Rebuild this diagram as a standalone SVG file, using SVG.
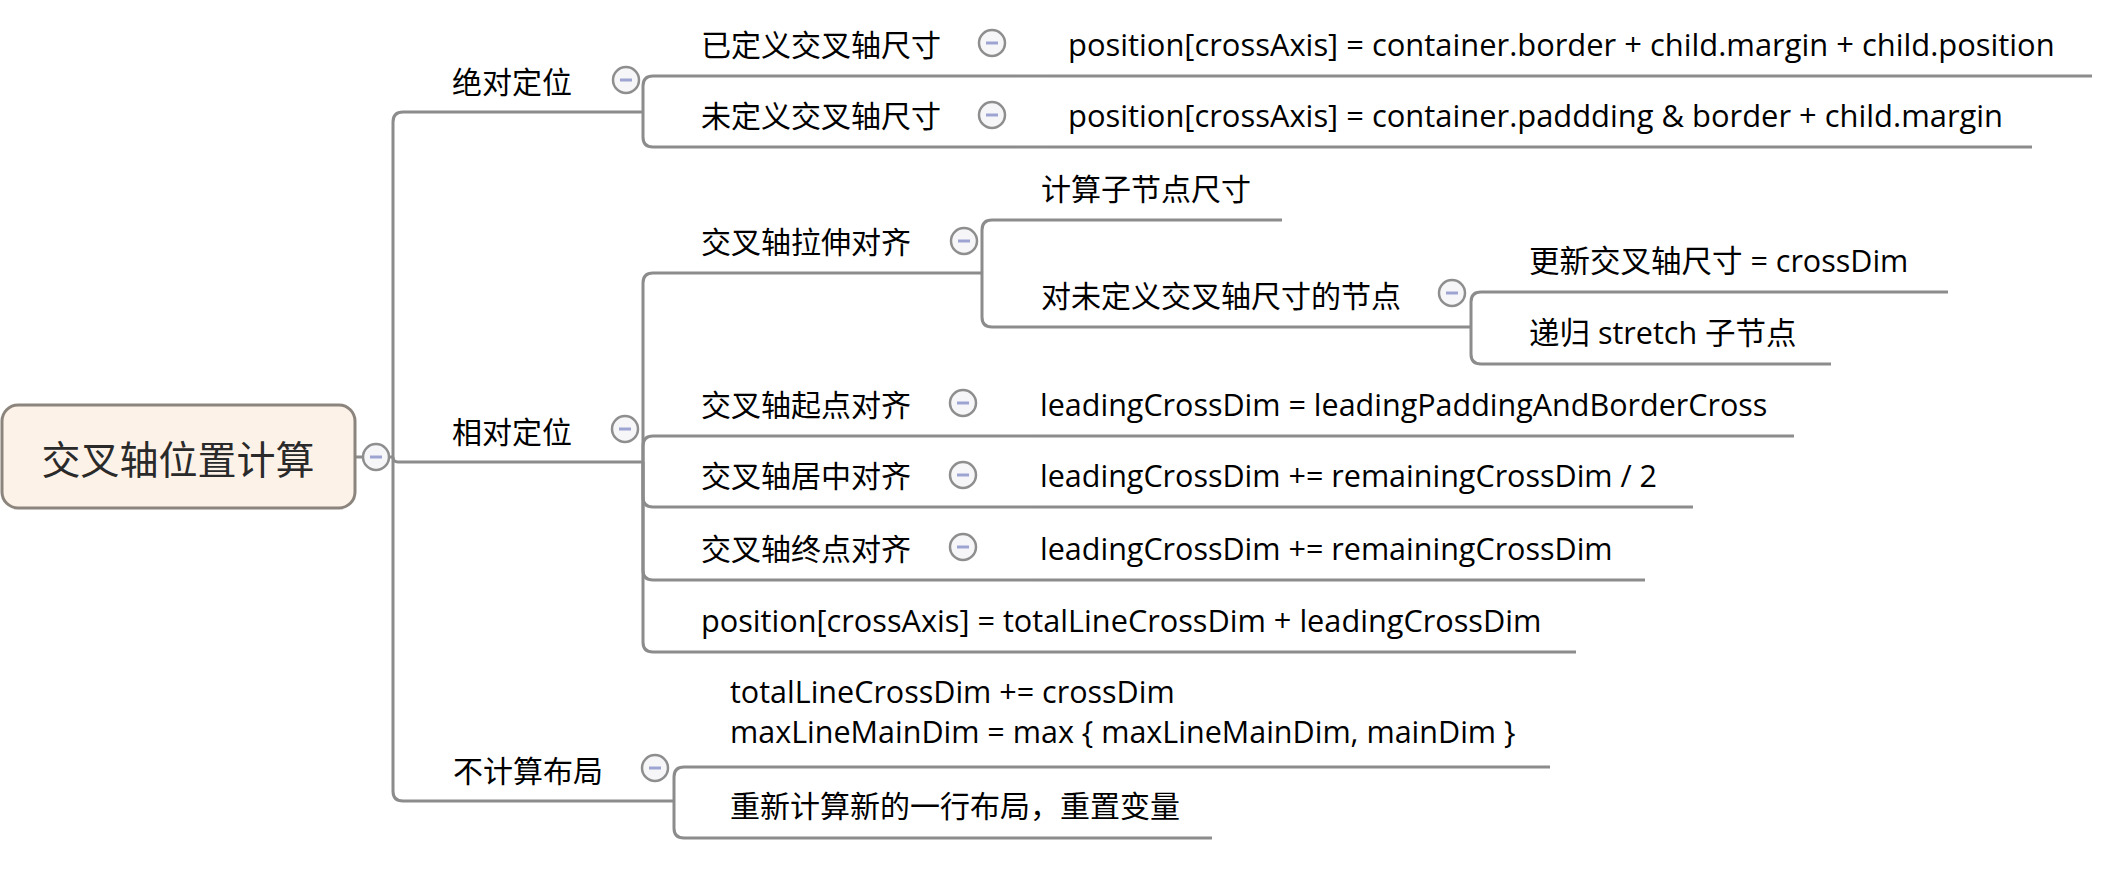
<svg xmlns="http://www.w3.org/2000/svg" width="2126" height="874" viewBox="0 0 2126 874">
<style>
.ln{fill:none;stroke:#8c8c8c;stroke-width:3;stroke-linecap:butt}
.t{font-family:"Open Sans","Noto Sans CJK SC",sans-serif;font-size:30.5px;fill:#000}
.c{font-size:30px}
.w{font-size:30.9px}
.rt{font-family:"Noto Sans CJK SC",sans-serif;font-size:39px;fill:#2a2a2a;text-anchor:middle}
.root{fill:#fdf2e8;stroke:#8c857e;stroke-width:3}
</style>
<defs>
<g id="col">
<circle cx="0" cy="0" r="13" fill="#f6f6f9" stroke="#8e8e8e" stroke-width="2.5"/>
<line x1="-6" y1="0" x2="6" y2="0" stroke="#9ea4d2" stroke-width="3"/>
</g>
</defs>
<rect width="2126" height="874" fill="#ffffff"/>
<g id="connectors">
<path class="ln" d="M355,457 L393,457"/>
<path class="ln" d="M393,457 L393,122 Q393,112 403,112"/>
<path class="ln" d="M393,457 Q393,462 398,462"/>
<path class="ln" d="M393,457 L393,791 Q393,801 403,801"/>
<path class="ln" d="M643,112 L643,86 Q643,76 653,76"/>
<path class="ln" d="M643,112 L643,137 Q643,147 653,147"/>
<path class="ln" d="M643,462 L643,283 Q643,273 653,273"/>
<path class="ln" d="M643,462 L643,446 Q643,436 653,436"/>
<path class="ln" d="M643,462 L643,497 Q643,507 653,507"/>
<path class="ln" d="M643,462 L643,570 Q643,580 653,580"/>
<path class="ln" d="M643,462 L643,642 Q643,652 653,652"/>
<path class="ln" d="M982,273 L982,230 Q982,220 992,220"/>
<path class="ln" d="M982,273 L982,317 Q982,327 992,327"/>
<path class="ln" d="M1471,327 L1471,302 Q1471,292 1481,292"/>
<path class="ln" d="M1471,327 L1471,354 Q1471,364 1481,364"/>
<path class="ln" d="M674,801 L674,777 Q674,767 684,767"/>
<path class="ln" d="M674,801 L674,828 Q674,838 684,838"/>
<path class="ln" d="M1020,76 L1050,76"/>
<path class="ln" d="M1020,147 L1050,147"/>
<path class="ln" d="M1000,436 L1030,436"/>
<path class="ln" d="M1000,507 L1030,507"/>
<path class="ln" d="M1000,580 L1030,580"/>
</g>
<g id="root">
<rect class="root" x="2" y="405" width="353" height="103" rx="16"/>
<text class="rt" x="178" y="474">交叉轴位置计算</text>
<use href="#col" x="376" y="457"/>
</g>
<g id="n-abs">
<path class="ln" d="M403,112 L643,112"/>
<text class="t c" x="452" y="93">绝对定位</text>
<use href="#col" x="626" y="80"/>
</g>
<g id="n-abs-defined">
<path class="ln" d="M653,76 L1020,76"/>
<text class="t c" x="701" y="56">已定义交叉轴尺寸</text>
<use href="#col" x="992" y="43"/>
</g>
<g id="n-abs-defined-formula">
<path class="ln" d="M1050,76 L2092,76"/>
<text class="t w" x="1068" y="56">position[crossAxis] = container.border + child.margin + child.position</text>
</g>
<g id="n-abs-undefined">
<path class="ln" d="M653,147 L1020,147"/>
<text class="t c" x="701" y="127">未定义交叉轴尺寸</text>
<use href="#col" x="992" y="115"/>
</g>
<g id="n-abs-undefined-formula">
<path class="ln" d="M1050,147 L2032,147"/>
<text class="t w" x="1068" y="127">position[crossAxis] = container.paddding &amp; border + child.margin</text>
</g>
<g id="n-rel">
<path class="ln" d="M398,462 L643,462"/>
<text class="t c" x="452" y="443">相对定位</text>
<use href="#col" x="625" y="429"/>
</g>
<g id="n-stretch">
<path class="ln" d="M653,273 L982,273"/>
<text class="t c" x="701" y="253">交叉轴拉伸对齐</text>
<use href="#col" x="964" y="241"/>
</g>
<g id="n-stretch-size">
<path class="ln" d="M992,220 L1282,220"/>
<text class="t c" x="1041" y="200">计算子节点尺寸</text>
</g>
<g id="n-stretch-undef">
<path class="ln" d="M992,327 L1471,327"/>
<text class="t c" x="1041" y="307">对未定义交叉轴尺寸的节点</text>
<use href="#col" x="1452" y="293"/>
</g>
<g id="n-stretch-update">
<path class="ln" d="M1481,292 L1948,292"/>
<text class="t" x="1529" y="272">更新交叉轴尺寸 = crossDim</text>
</g>
<g id="n-stretch-recurse">
<path class="ln" d="M1481,364 L1831,364"/>
<text class="t" x="1529" y="344">递归 stretch 子节点</text>
</g>
<g id="n-start">
<path class="ln" d="M653,436 L1000,436"/>
<text class="t c" x="701" y="416">交叉轴起点对齐</text>
<use href="#col" x="963" y="403"/>
</g>
<g id="n-start-formula">
<path class="ln" d="M1030,436 L1794,436"/>
<text class="t" x="1040" y="416">leadingCrossDim = leadingPaddingAndBorderCross</text>
</g>
<g id="n-center">
<path class="ln" d="M653,507 L1000,507"/>
<text class="t c" x="701" y="487">交叉轴居中对齐</text>
<use href="#col" x="963" y="475"/>
</g>
<g id="n-center-formula">
<path class="ln" d="M1030,507 L1693,507"/>
<text class="t" x="1040" y="487">leadingCrossDim += remainingCrossDim / 2</text>
</g>
<g id="n-end">
<path class="ln" d="M653,580 L1000,580"/>
<text class="t c" x="701" y="560">交叉轴终点对齐</text>
<use href="#col" x="963" y="547"/>
</g>
<g id="n-end-formula">
<path class="ln" d="M1030,580 L1645,580"/>
<text class="t" x="1040" y="560">leadingCrossDim += remainingCrossDim</text>
</g>
<g id="n-position">
<path class="ln" d="M653,652 L1576,652"/>
<text class="t" x="701" y="632" style="font-size:30.7px">position[crossAxis] = totalLineCrossDim + leadingCrossDim</text>
</g>
<g id="n-nolayout">
<path class="ln" d="M403,801 L674,801"/>
<text class="t c" x="453" y="782">不计算布局</text>
<use href="#col" x="655" y="768"/>
</g>
<g id="n-nolayout-update">
<path class="ln" d="M684,767 L1550,767"/>
<text class="t" x="730" y="703">totalLineCrossDim += crossDim</text>
<text class="t" x="730" y="743">maxLineMainDim = max { maxLineMainDim, mainDim }</text>
</g>
<g id="n-nolayout-reset">
<path class="ln" d="M684,838 L1212,838"/>
<text class="t c" x="730" y="817">重新计算新的一行布局，重置变量</text>
</g>
</svg>
